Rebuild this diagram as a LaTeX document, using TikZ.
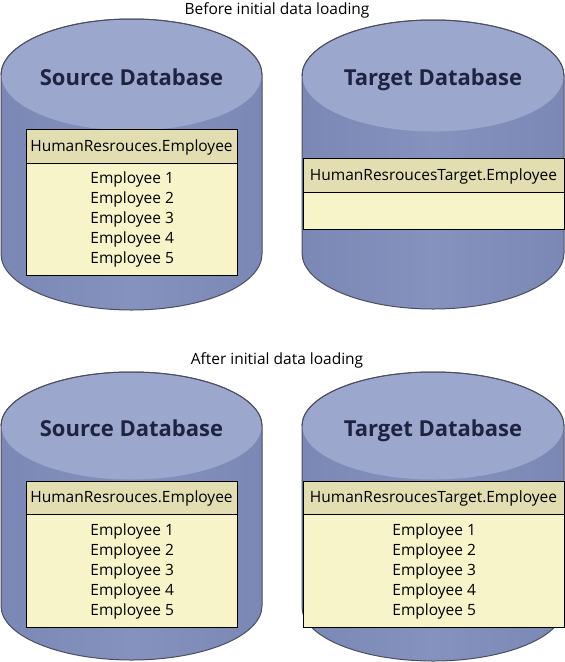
\documentclass[tikz,border=0pt]{standalone}
\usepackage{fontspec}
\setmainfont{Open Sans}
\definecolor{cylbody}{HTML}{7B88B5}
\definecolor{cylbodyL}{HTML}{8592BE}
\definecolor{cyltop}{HTML}{9BA7CD}
\definecolor{cylline}{HTML}{4A4E5E}
\definecolor{hdrfill}{HTML}{E3DEB2}
\definecolor{rowfill}{HTML}{F6F4C8}
\definecolor{titlecol}{HTML}{1E2340}
\tikzset{
  cylbodystyle/.style={draw=cylline, line width=1pt, left color=cylbody, right color=cylbody, middle color=cylbodyL},
  cyltopstyle/.style={fill=cyltop},
  hdrbox/.style={draw=black, line width=1.4pt, fill=hdrfill, rectangle, inner sep=0pt, anchor=north west},
  hdrtext/.style={anchor=base, inner sep=0pt, font=\fontsize{15.5}{18}\selectfont},
  rows/.style={draw=black, line width=1.4pt, fill=rowfill, rectangle, inner sep=0pt, anchor=north west, align=center, font=\fontsize{15.5}{20}\selectfont},
  dbtitle/.style={anchor=base, inner sep=0pt, font=\fontsize{22}{24}\selectfont\bfseries, text=titlecol},
  caption/.style={anchor=base, inner sep=0pt, font=\fontsize{15.5}{18}\selectfont, text=black}
}
\begin{document}
\begin{tikzpicture}[x=1pt, y=-1pt]
\useasboundingbox (0,0) rectangle (565,662);
% ---------- cylinder TL
\path[cylbodystyle] (1,75) -- (1,254) arc[start angle=180, end angle=0, x radius=130.5, y radius=56] -- (262,75) arc[start angle=0, end angle=-180, x radius=130.5, y radius=56] -- cycle;
\path[cyltopstyle] (131.5,75) ellipse[x radius=130, y radius=55.5];
\draw[cylline, line width=1pt] (1,75) arc[start angle=180, end angle=360, x radius=130.5, y radius=56];
% ---------- cylinder TR
\path[cylbodystyle] (302,76) -- (302,253) arc[start angle=180, end angle=0, x radius=131, y radius=56] -- (564,76) arc[start angle=0, end angle=-180, x radius=131, y radius=56] -- cycle;
\path[cyltopstyle] (433,76) ellipse[x radius=130.5, y radius=55.5];
\draw[cylline, line width=1pt] (302,76) arc[start angle=180, end angle=360, x radius=131, y radius=56];
% ---------- cylinder BL
\path[cylbodystyle] (1,426) -- (1,606) arc[start angle=180, end angle=0, x radius=130.5, y radius=54] -- (262,426) arc[start angle=0, end angle=-180, x radius=130.5, y radius=54] -- cycle;
\path[cyltopstyle] (131.5,426) ellipse[x radius=130, y radius=53.5];
\draw[cylline, line width=1pt] (1,426) arc[start angle=180, end angle=360, x radius=130.5, y radius=54];
% ---------- cylinder BR
\path[cylbodystyle] (302,426) -- (302,607) arc[start angle=180, end angle=0, x radius=131, y radius=54] -- (564,426) arc[start angle=0, end angle=-180, x radius=131, y radius=54] -- cycle;
\path[cyltopstyle] (433,426) ellipse[x radius=130.5, y radius=53.5];
\draw[cylline, line width=1pt] (302,426) arc[start angle=180, end angle=360, x radius=131, y radius=54];

% captions
\node[caption] (cap1) at (277,14) {Before initial data loading};
\node[caption] (cap2) at (277,364) {After initial data loading};

% titles
\node[dbtitle] (t1) at (131.5,85) {Source Database};
\node[dbtitle] (t2) at (433,85) {Target Database};
\node[dbtitle] (t3) at (131.5,436) {Source Database};
\node[dbtitle] (t4) at (433,436) {Target Database};

% tables
\node[hdrbox, minimum width=211pt, minimum height=34pt] (h1) at (26,129) {};
\node[hdrtext] (h1t) at (131.5,151.5) {HumanResrouces.Employee};
\node[rows, minimum width=211pt, minimum height=112pt] (r1) at (26,163) {Employee 1\\Employee 2\\Employee 3\\Employee 4\\Employee 5};

\node[hdrbox, minimum width=261pt, minimum height=34pt] (h2) at (303,158) {};
\node[hdrtext] (h2t) at (433.5,180.5) {HumanResroucesTarget.Employee};
\node[rows, minimum width=261pt, minimum height=37pt] (r2) at (303,192) {};

\node[hdrbox, minimum width=211pt, minimum height=33pt] (h3) at (26,481) {};
\node[hdrtext] (h3t) at (131.5,502) {HumanResrouces.Employee};
\node[rows, minimum width=211pt, minimum height=113pt] (r3) at (26,514) {Employee 1\\Employee 2\\Employee 3\\Employee 4\\Employee 5};

\node[hdrbox, minimum width=261pt, minimum height=33pt] (h4) at (303,481) {};
\node[hdrtext] (h4t) at (433.5,502) {HumanResroucesTarget.Employee};
\node[rows, minimum width=261pt, minimum height=113pt] (r4) at (303,514) {Employee 1\\Employee 2\\Employee 3\\Employee 4\\Employee 5};
\end{tikzpicture}
\end{document}
